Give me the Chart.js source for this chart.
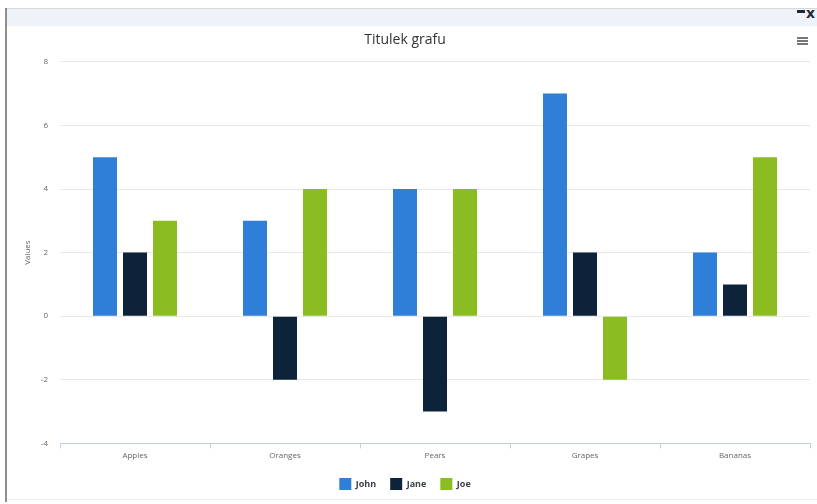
<!DOCTYPE html>
<html>
<head>
<meta charset="utf-8">
<script src="https://cdn.jsdelivr.net/npm/chart.js@4"></script>
<style>
    html, body { margin: 0; padding: 0; background: #fff; }
    body { width: 817px; height: 504px; position: relative; overflow: hidden; font-family: "Open Sans", "DejaVu Sans", sans-serif; }
    #frameTop { position: absolute; left: 5px; top: 8px; width: 812px; height: 1px; background: #d8d8d8; }
    #topBar { position: absolute; left: 6px; top: 9px; width: 811px; height: 17px; background: #eef3fa; }
    #frameLeft { position: absolute; left: 5px; top: 8px; width: 2px; height: 494px; background: #8e8e8e; }
    #frameBottom { position: absolute; left: 7px; top: 499px; width: 810px; height: 1px; background: #efefef; }
    #winDash { position: absolute; left: 797px; top: 10px; width: 8px; height: 3px; background: #1d2838; }
    #winClose { position: absolute; left: 806px; top: 5px; font: bold 14px "DejaVu Sans", sans-serif; color: #1d2838; }
    #menuIcon { position: absolute; left: 797px; top: 37px; width: 11px; }
    #menuIcon div { height: 2px; background: #777; margin-bottom: 1px; }
    #chartBox { position: absolute; left: 0; top: 0; width: 817px; height: 504px; }
</style>
</head>
<body>
<div id="frameTop"></div>
<div id="topBar"></div>
<div id="frameLeft"></div>
<div id="frameBottom"></div>
<div id="winDash"></div>
<div id="winClose">x</div>
<div id="menuIcon"><div></div><div></div><div></div></div>
<div id="chartBox"><canvas id="mainChart"></canvas></div>
<script>
// 数据
const categories = ['Apples', 'Oranges', 'Pears', 'Grapes', 'Bananas'];
const johnValues = [5, 3, 4, 7, 2];
const janeValues = [2, -2, -3, 2, 1];
const joeValues = [3, 4, 4, -2, 5];
const yTicks = [-4, -2, 0, 2, 4, 6, 8];

const seriesColors = ['#2f7ed8', '#0d233a', '#8bbc21'];

function makeSeries(label, data, color) {
    return {
        label: label,
        data: data,
        backgroundColor: color,
        borderWidth: 0,
        categoryPercentage: 0.6,
        barPercentage: 0.8
    };
}

const ctx = document.getElementById('mainChart').getContext('2d');
new Chart(ctx, {
    type: 'bar',
    data: {
        labels: categories,
        datasets: [
            makeSeries('John', johnValues, seriesColors[0]),
            makeSeries('Jane', janeValues, seriesColors[1]),
            makeSeries('Joe', joeValues, seriesColors[2])
        ]
    },
    options: {
        responsive: true,
        maintainAspectRatio: false,
        animation: false,
        layout: { padding: { top: 30, right: 7, bottom: 4, left: 0 } },
        plugins: {
            title: {
                display: true,
                text: 'Titulek grafu',
                color: '#333',
                font: { size: 14, weight: 'normal', family: '"Open Sans", sans-serif' },
                padding: { top: 2, bottom: 13 }
            },
            legend: {
                position: 'bottom',
                labels: {
                    boxWidth: 12,
                    boxHeight: 12,
                    color: '#3a3f48',
                    font: { size: 9, weight: 'bold', family: '"Open Sans", sans-serif' },
                    padding: 14
                }
            },
            tooltip: { enabled: false }
        },
        scales: {
            x: {
                offset: true,
                grid: {
                    display: true,
                    offset: true,
                    drawOnChartArea: false,
                    drawTicks: true,
                    tickLength: 5,
                    color: '#c0d0e0'
                },
                border: { display: true, color: '#c0d0e0' },
                ticks: {
                    color: '#666',
                    font: { size: 8, family: '"Open Sans", sans-serif' },
                    padding: 3
                }
            },
            y: {
                min: -4,
                max: 8,
                afterBuildTicks: scale => {
                    scale.ticks = yTicks.map(v => ({ value: v }));
                },
                afterFit: scale => {
                    scale.width = 60;
                },
                grid: {
                    color: '#e8e8e8',
                    drawTicks: false
                },
                border: { display: false },
                ticks: {
                    color: '#666',
                    font: { size: 8, family: '"Open Sans", sans-serif' },
                    padding: 12
                },
                title: {
                    display: true,
                    text: 'Values',
                    color: '#666',
                    font: { size: 8, family: '"Open Sans", sans-serif' },
                    padding: { top: 23, bottom: 0 }
                }
            }
        }
    }
});
</script>
</body>
</html>
